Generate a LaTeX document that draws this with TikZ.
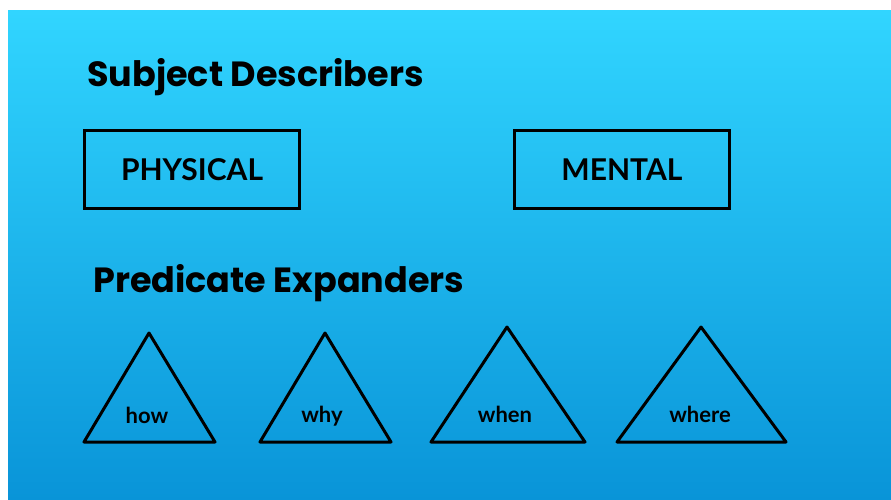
\documentclass[tikz,border=0pt]{standalone}
\usepackage{fontspec}
\setmainfont{Lato}
\newfontfamily\headfont{Poppins}
\definecolor{skytop}{RGB}{49,213,255}
\definecolor{skybottom}{RGB}{9,148,216}
\begin{document}
\begin{tikzpicture}[x=1pt,y=-1pt]
    % Define styles
    \tikzstyle{heading}=[anchor=base west,inner sep=0pt,font=\headfont\fontsize{35}{40}\selectfont\bfseries]
    \tikzstyle{describer}=[draw,line width=3pt,minimum width=215pt,minimum height=78pt,inner sep=0pt,font=\fontsize{30}{35}\selectfont\bfseries]
    \tikzstyle{expander}=[draw,line width=3pt,line join=round]
    \tikzstyle{word}=[inner sep=0pt,font=\fontsize{22}{26}\selectfont\bfseries]

    % Draw the background
    \useasboundingbox (0,0) rectangle (891,500);
    \fill[white] (0,0) rectangle (891,500);
    \shade[top color=skytop,bottom color=skybottom] (8,11) rectangle (891,500);

    % Draw the headings
    \node[heading] (subj) at (87,87) {Subject Describers};
    \node[heading] (pred) at (93,292) {Predicate Expanders};

    % Draw the boxes
    \node[describer] (phys) at (192,169.5) {PHYSICAL};
    \node[describer] (ment) at (622,169.5) {MENTAL};

    % Draw the triangles
    \draw[expander] (149,333) -- (84,442) -- (215,442) -- cycle;
    \draw[expander] (325,333) -- (260,442) -- (391,442) -- cycle;
    \draw[expander] (507,327) -- (431,442) -- (585,442) -- cycle;
    \draw[expander] (701,327) -- (617,442) -- (786,442) -- cycle;

    % Add the words
    \node[word] (how) at (147,415) {how};
    \node[word] (why) at (322,416) {why};
    \node[word] (when) at (505,414) {when};
    \node[word] (where) at (700,414) {where};
\end{tikzpicture}
\end{document}
